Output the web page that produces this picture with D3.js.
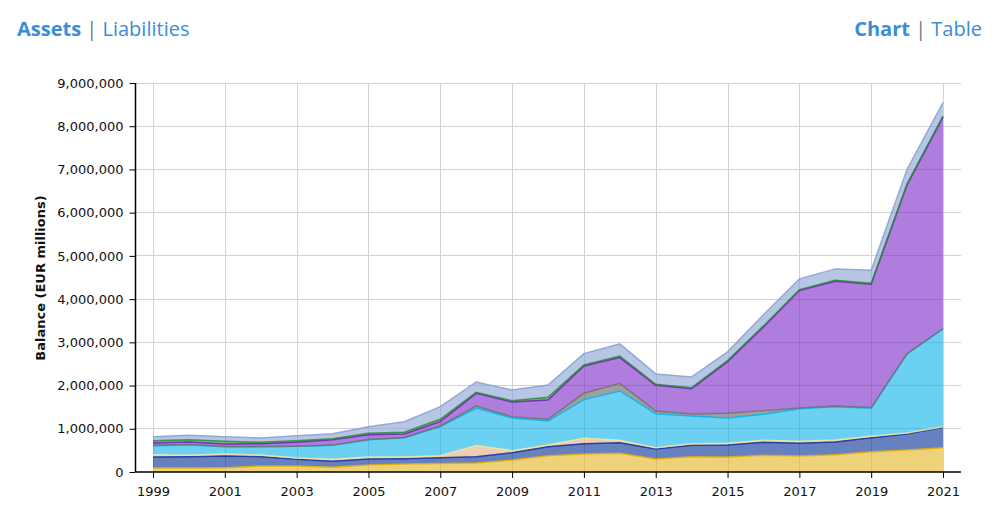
<!DOCTYPE html>
<html>
<head>
<meta charset="utf-8">
<script src="https://cdn.jsdelivr.net/npm/d3@7"></script>
<style>
  html, body { margin: 0; padding: 0; background: #fff; overflow: hidden; }
  svg { display: block; }
  .nav { font-family: "Open Sans", sans-serif; font-size: 20px; fill: #3a8dd6; }
  .nav .on { font-weight: 700; }
  .nav .sep { fill: #777; }
  .axis text { font-family: "DejaVu Sans", sans-serif; font-size: 13px; fill: #111; }
  .grid line { stroke: #d2d2d2; stroke-width: 1; }
</style>
</head>
<body>
<svg id="chart" width="992" height="514"></svg>
<script>
const years = [1999, 2000, 2001, 2002, 2003, 2004, 2005, 2006, 2007, 2008, 2009, 2010, 2011, 2012, 2013, 2014, 2015, 2016, 2017, 2018, 2019, 2020, 2021];
const yTicks = [0, 1000000, 2000000, 3000000, 4000000, 5000000, 6000000, 7000000, 8000000, 9000000];

// layer values in thousands of EUR millions, bottom layer first
const gold = [93, 93, 100, 140, 140, 110, 160, 185, 195, 208, 278, 378, 417, 432, 300, 355, 345, 386, 370, 400, 470, 510, 563];
const blue = [254, 262, 270, 215, 153, 137, 140, 123, 137, 147, 169, 208, 239, 247, 232, 262, 280, 301, 294, 294, 325, 370, 471];
const peach = [53, 30, 46, 38, 31, 46, 47, 39, 46, 255, 47, 39, 123, 54, 31, 39, 39, 46, 46, 46, 30, 23, 15];
const cyan = [210, 248, 170, 193, 270, 324, 401, 448, 671, 871, 756, 555, 895, 1142, 787, 640, 586, 602, 756, 772, 649, 1828, 2261];
const gray = [5, 5, 4, 4, 4, 5, 4, 5, 16, 47, 31, 39, 147, 177, 62, 47, 108, 85, 14, 16, 16, 8, 10];
const purple = [55, 57, 58, 66, 89, 126, 112, 80, 100, 293, 339, 448, 633, 595, 594, 586, 1196, 1936, 2718, 2886, 2854, 3905, 4890];
const green = [55, 53, 62, 31, 38, 24, 31, 38, 54, 23, 31, 61, 23, 38, 23, 23, 26, 24, 22, 21, 21, 21, 25];
const lightBlue = [93, 101, 108, 100, 116, 115, 154, 247, 293, 239, 247, 286, 262, 278, 240, 247, 200, 260, 248, 264, 303, 341, 314];

const seriesNames = ["gold", "blue", "peach", "cyan", "gray", "purple", "green", "lightBlue"];
const seriesValues = [gold, blue, peach, cyan, gray, purple, green, lightBlue];
const seriesColors = ["#e3b421", "#002b96", "#e4ac80", "#08b1e9", "#616161", "#7a26c6", "#1f8a2e", "#87a0d2"];
const edgeColors = ["#e6ae00", "#0a2f9c", "#f0e6a0", "#00b4ec", "#707070", "#6a22b0", "#2a8a3a", "#86a0d0"];

const svg = d3.select("#chart");

const plotLeft = 135.5, plotRight = 961, plotTop = 83, plotBottom = 472;

const x = d3.scaleLinear().domain([1999, 2021]).range([153, 943]);
const y = d3.scaleLinear().domain([0, 9000000]).range([plotBottom, plotTop]);

// Header links
const nav = svg.append("g").attr("class", "nav");
const navLeft = nav.append("text").attr("x", 17).attr("y", 36);
navLeft.append("tspan").attr("class", "on").text("Assets");
navLeft.append("tspan").attr("class", "sep").text(" | ");
navLeft.append("tspan").text("Liabilities");
const navRight = nav.append("text").attr("x", 982).attr("y", 36).attr("text-anchor", "end");
navRight.append("tspan").attr("class", "on").text("Chart");
navRight.append("tspan").attr("class", "sep").text(" | ");
navRight.append("tspan").text("Table");

// Grid
const grid = svg.append("g").attr("class", "grid");
grid.selectAll(".h").data(yTicks.slice(1)).enter().append("line")
  .attr("x1", plotLeft).attr("x2", plotRight)
  .attr("y1", d => Math.floor(y(d)) + 0.5).attr("y2", d => Math.floor(y(d)) + 0.5);
const xTicks = years.filter((d, i) => i % 2 === 0);
grid.selectAll(".v").data(xTicks).enter().append("line")
  .attr("y1", plotTop).attr("y2", plotBottom)
  .attr("x1", d => Math.round(x(d)) + 0.5).attr("x2", d => Math.round(x(d)) + 0.5);

// Stack the layers
const rows = years.map((year, i) => {
  const row = { year: year };
  seriesNames.forEach((name, s) => { row[name] = seriesValues[s][i] * 1000; });
  return row;
});
const stacked = d3.stack().keys(seriesNames)(rows);

const area = d3.area()
  .x(d => x(d.data.year))
  .y0(d => y(d[0]))
  .y1(d => y(d[1]));
const line = d3.line()
  .x(d => x(d.data.year))
  .y(d => y(d[1]));

const layers = svg.append("g");
layers.selectAll("path.fill").data(stacked).enter().append("path")
  .attr("class", "fill")
  .attr("d", area)
  .attr("fill", (d, i) => seriesColors[i])
  .attr("fill-opacity", 0.6);
layers.selectAll("path.edge").data(stacked).enter().append("path")
  .attr("class", "edge")
  .attr("d", line)
  .attr("fill", "none")
  .attr("stroke", (d, i) => edgeColors[i])
  .attr("stroke-width", 1.5)
  .attr("stroke-opacity", 0.85);

// Axes
const yAxis = d3.axisLeft(y).tickValues(yTicks).tickFormat(d3.format(",")).tickSize(6).tickPadding(6);
const gy = svg.append("g").attr("class", "axis").attr("transform", `translate(${plotLeft},0)`).call(yAxis);
gy.select(".domain").attr("stroke", "#000").attr("stroke-width", 1.5).attr("d", `M0,${plotTop}V${plotBottom}`);
gy.selectAll(".tick line").attr("stroke", "#000");

const xAxis = d3.axisBottom(x).tickValues(xTicks).tickFormat(d3.format("d")).tickSize(6).tickPadding(9);
const gx = svg.append("g").attr("class", "axis").attr("transform", `translate(0,${plotBottom})`).call(xAxis);
gx.select(".domain").attr("stroke", "#000").attr("stroke-width", 1.5).attr("d", `M${plotLeft},0H${plotRight}`);
gx.selectAll(".tick line").attr("stroke", "#000");

svg.append("text")
  .attr("transform", "translate(45,278) rotate(-90)")
  .attr("text-anchor", "middle")
  .attr("font-family", "DejaVu Sans, sans-serif")
  .attr("font-size", 13)
  .attr("font-weight", 700)
  .attr("fill", "#111")
  .text("Balance (EUR millions)");
</script>
</body>
</html>
